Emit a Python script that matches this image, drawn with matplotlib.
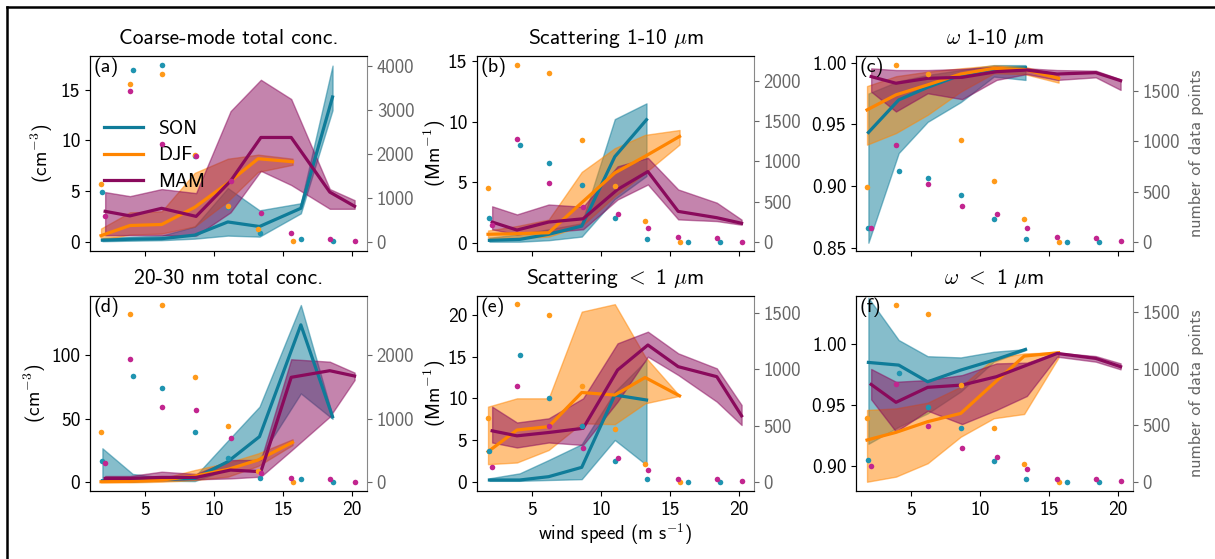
import numpy as np
import matplotlib
matplotlib.use("Agg")
import matplotlib.pyplot as plt
from matplotlib.lines import Line2D
from matplotlib.ticker import FormatStrFormatter

nan = np.nan

# mean wind speed of each bin, per season
son_x = [1.9, 4.1, 6.2, 8.6, 11.0, 13.3, 16.3, 18.6]
djf_x = [1.8, 3.9, 6.2, 8.6, 11.0, 13.2, 15.7]
mam_x = [2.1, 3.9, 6.2, 8.7, 11.2, 13.4, 15.6, 18.4, 20.2]

# (a) coarse-mode total conc.
a_son = [0.15, 0.25, 0.3, 0.65, 1.95, 1.5, 3.3, 14.3]
a_son_lo = [0.05, 0.1, 0.15, 0.3, 0.6, 0.5, 2.8, 13.0]
a_son_hi = [0.35, 0.5, 0.6, 1.5, 5.3, 3.1, 3.8, 17.4]
a_djf = [0.6, 1.6, 1.7, 3.4, 5.8, 8.2, 7.9]
a_djf_lo = [0.2, 0.7, 0.8, 1.5, 4.0, 6.9, 7.6]
a_djf_hi = [1.3, 2.9, 3.0, 6.8, 8.2, 8.6, 8.2]
a_mam = [3.0, 2.55, 3.3, 2.5, 6.0, 10.3, 10.3, 4.9, 3.5]
a_mam_lo = [0.65, 0.65, 0.65, 0.6, 2.9, 7.0, 5.6, 3.25, 3.25]
a_mam_hi = [4.9, 4.5, 5.2, 4.8, 12.9, 16.0, 14.1, 5.2, 4.1]
a_son_n = [1130, 3910, 4020, 1940, 800, 190, 55, 5]
a_djf_n = [1315, 3600, 3820, 1975, 810, 280, 10]
a_mam_n = [580, 3420, 2230, 1960, 1380, 660, 190, 55, 5]

# (b) scattering 1-10 um
b_son = [0.19, 0.27, 0.69, 1.37, 7.1, 10.15, nan, nan]
b_son_lo = [0.08, 0.08, 0.2, 0.5, 3.6, 5.5, nan, nan]
b_son_hi = [0.4, 0.7, 1.1, 1.6, 10.2, 11.5, nan, nan]
b_djf = [0.69, 0.74, 0.82, 3.3, 5.76, 7.13, 8.77]
b_djf_lo = [0.4, 0.38, 0.5, 1.37, 3.84, 5.76, 8.1]
b_djf_hi = [1.0, 1.37, 1.9, 5.84, 7.8, 8.9, 9.3]
b_mam = [1.7, 1.04, 1.7, 1.97, 4.39, 5.87, 2.58, 2.06, 1.6]
b_mam_lo = [1.1, 0.69, 0.88, 1.1, 3.56, 4.8, 1.92, 1.78, 1.48]
b_mam_hi = [3.0, 2.33, 3.15, 2.96, 6.3, 7.0, 4.39, 3.3, 1.9]
b_son_n = [293, 1200, 981, 709, 301, 37, 4, 4]
b_djf_n = [672, 2198, 2103, 1270, 693, 260, 4]
b_mam_n = [206, 1278, 730, 437, 342, 177, 62, 45, 4]

# (c) omega 1-10 um
c_son = [0.9434, 0.9698, 0.98, 0.990, 0.9949, 0.9959, nan, nan]
c_son_lo = [0.854, 0.9267, 0.952, 0.968, 0.9887, 0.986, nan, nan]
c_son_hi = [0.975, 0.985, 0.99, 0.994, 0.998, 0.998, nan, nan]
c_djf = [0.9617, 0.9739, 0.982, 0.9908, 0.9954, 0.9946, 0.9873]
c_djf_lo = [0.9335, 0.9429, 0.9577, 0.9765, 0.9914, 0.9908, 0.9838]
c_djf_hi = [0.981, 0.989, 0.9927, 0.9954, 0.9978, 0.9967, 0.990]
c_mam = [0.9887, 0.9833, 0.9873, 0.9881, 0.9927, 0.994, 0.9908, 0.9919, 0.9854]
c_mam_lo = [0.9765, 0.9604, 0.9752, 0.9704, 0.986, 0.9908, 0.986, 0.9881, 0.9779]
c_mam_hi = [0.9954, 0.994, 0.994, 0.9949, 0.9967, 0.9954, 0.994, 0.9935, 0.9865]
c_son_n = [135, 700, 635, 470, 224, 33, 3, 3]
c_djf_n = [543, 1753, 1664, 1006, 608, 224, 3]
c_mam_n = [141, 957, 579, 352, 273, 141, 49, 39, 10]

# (d) 20-30 nm total conc.
d_son = [1.3, 1.3, 2.4, 3.1, 16.3, 36.0, 124.0, 51.7]
d_son_lo = [0.5, 0.5, 1.3, 1.0, 10.2, 18.9, 70.0, 50.0]
d_son_hi = [26.8, 6.6, 3.9, 4.5, 32.8, 59.6, 139.6, 52.5]
d_djf = [0.5, 0.8, 1.8, 5.0, 10.2, 17.6, 31.5]
d_djf_lo = [0.0, 0.0, 0.5, 1.8, 4.5, 12.9, 29.4]
d_djf_hi = [1.3, 1.8, 3.1, 9.7, 15.5, 22.8, 33.9]
d_mam = [3.1, 3.1, 3.9, 3.9, 9.7, 8.4, 82.7, 87.9, 83.7]
d_mam_lo = [1.3, 1.3, 1.8, 2.4, 3.1, 4.5, 25.0, 51.7, 80.6]
d_mam_hi = [5.0, 5.0, 8.4, 6.6, 17.6, 17.6, 96.9, 95.0, 86.4]
d_son_n = [341, 1674, 1480, 798, 388, 63, 47, 0]
d_djf_n = [798, 2656, 2798, 1664, 887, 180, 0]
d_mam_n = [310, 1937, 1181, 1134, 693, 150, 63, 47, 5]

# (e) scattering < 1 um
e_son = [0.2, 0.2, 0.6, 1.72, 10.4, 9.8, nan, nan]
e_son_lo = [0.1, 0.1, 0.2, 0.3, 5.0, 2.0, nan, nan]
e_son_hi = [0.4, 1.0, 2.6, 4.5, 10.8, 14.6, nan, nan]
e_djf = [3.6, 6.2, 6.6, 10.7, 10.4, 12.5, 10.3]
e_djf_lo = [2.1, 2.3, 3.8, 7.0, 6.9, 9.4, 10.3]
e_djf_hi = [9.0, 10.0, 10.0, 20.4, 21.3, 15.0, 10.3]
e_mam = [6.1, 5.5, 5.9, 6.4, 13.4, 16.4, 13.8, 12.6, 7.9]
e_mam_lo = [4.7, 4.1, 4.7, 4.4, 9.6, 15.0, 12.8, 9.6, 6.8]
e_mam_hi = [9.0, 7.1, 7.6, 10.0, 16.6, 18.0, 15.4, 13.6, 9.2]
e_son_n = [273, 1129, 743, 496, 187, 24, 0, 0]
e_djf_n = [564, 1580, 1485, 852, 469, 154, 0]
e_mam_n = [134, 855, 496, 297, 208, 104, 24, 21, 3]

# (f) omega < 1 um
f_son = [0.9849, 0.9827, 0.969, 0.9786, 0.9868, 0.9956, nan, nan]
f_son_lo = [0.918, 0.932, 0.943, 0.961, 0.9855, 0.995, nan, nan]
f_son_hi = [1.038, 1.0033, 0.990, 0.989, 0.9937, 0.9958, nan, nan]
f_djf = [0.9211, 0.9274, 0.9362, 0.943, 0.9677, 0.9901, 0.9929]
f_djf_lo = [0.8868, 0.891, 0.902, 0.9238, 0.939, 0.9425, 0.989]
f_djf_hi = [0.9458, 0.9471, 0.9518, 0.9649, 0.9882, 0.9923, 0.9932]
f_mam = [0.9668, 0.9521, 0.9644, 0.9663, 0.9732, 0.9827, 0.9923, 0.9882, 0.9814]
f_mam_lo = [0.9545, 0.928, 0.9452, 0.9342, 0.9458, 0.9573, 0.9896, 0.9855, 0.9792]
f_mam_hi = [0.9795, 0.969, 0.9704, 0.9745, 0.9841, 0.9847, 0.9929, 0.9901, 0.9841]
f_son_n = [194, 966, 666, 474, 186, 29, 0, 0]
f_djf_n = [562, 1567, 1481, 854, 480, 159, 0]
f_mam_n = [141, 863, 498, 297, 218, 112, 29, 24, 6]

seasons = ["SON", "DJF", "MAM"]
line_col = {"SON": "#0f7c99", "DJF": "#ff8500", "MAM": "#8a0a5c"}
dot_col = {"SON": "#1f94b0", "DJF": "#ff9a1a", "MAM": "#c2258f"}
xs = {"SON": son_x, "DJF": djf_x, "MAM": mam_x}

plt.rcParams["font.family"] = "cmss10"
plt.rcParams["mathtext.fontset"] = "cm"
plt.rcParams["axes.unicode_minus"] = False
plt.rcParams["axes.formatter.use_mathtext"] = False

fig = plt.figure(figsize=(12.15, 5.59), dpi=100)

W, H = 1215.0, 559.0
lefts = [90, 477, 856]
tops = [56, 296]
aw, ah = 277, 195

panels = [
    dict(tag="(a)", title="Coarse-mode total conc.", ylabel="(cm$^{-3}$)", ylx=-0.125,
         d={"SON": (a_son, a_son_lo, a_son_hi, a_son_n),
            "DJF": (a_djf, a_djf_lo, a_djf_hi, a_djf_n),
            "MAM": (a_mam, a_mam_lo, a_mam_hi, a_mam_n)},
         ylim=(-0.92, 18.35), yt=[0, 5, 10, 15], rlim=(-212, 4226),
         rt=[0, 1000, 2000, 3000, 4000], fmt=None),
    dict(tag="(b)", title="Scattering 1-10 $\\mu$m", ylabel="(Mm$^{-1}$)", ylx=-0.106,
         d={"SON": (b_son, b_son_lo, b_son_hi, b_son_n),
            "DJF": (b_djf, b_djf_lo, b_djf_hi, b_djf_n),
            "MAM": (b_mam, b_mam_lo, b_mam_hi, b_mam_n)},
         ylim=(-0.69, 15.41), yt=[0, 5, 10, 15], rlim=(-111, 2309),
         rt=[0, 500, 1000, 1500, 2000], fmt=None),
    dict(tag="(c)", title="$\\omega$ 1-10 $\\mu$m", ylabel=None, ylx=None,
         d={"SON": (c_son, c_son_lo, c_son_hi, c_son_n),
            "DJF": (c_djf, c_djf_lo, c_djf_hi, c_djf_n),
            "MAM": (c_mam, c_mam_lo, c_mam_hi, c_mam_n)},
         ylim=(0.8473, 1.0054), yt=[0.85, 0.90, 0.95, 1.00], rlim=(-89, 1842),
         rt=[0, 500, 1000, 1500], fmt="%.2f"),
    dict(tag="(d)", title="20-30 nm total conc.", ylabel="(cm$^{-3}$)", ylx=-0.15,
         d={"SON": (d_son, d_son_lo, d_son_hi, d_son_n),
            "DJF": (d_djf, d_djf_lo, d_djf_hi, d_djf_n),
            "MAM": (d_mam, d_mam_lo, d_mam_hi, d_mam_n)},
         ylim=(-6.8, 146.7), yt=[0, 50, 100], rlim=(-136, 2934),
         rt=[0, 1000, 2000], fmt=None),
    dict(tag="(e)", title="Scattering $<$ 1 $\\mu$m", ylabel="(Mm$^{-1}$)", ylx=-0.106,
         d={"SON": (e_son, e_son_lo, e_son_hi, e_son_n),
            "DJF": (e_djf, e_djf_lo, e_djf_hi, e_djf_n),
            "MAM": (e_mam, e_mam_lo, e_mam_hi, e_mam_n)},
         ylim=(-1.12, 22.28), yt=[0, 5, 10, 15, 20], rlim=(-83, 1654),
         rt=[0, 500, 1000, 1500], fmt=None),
    dict(tag="(f)", title="$\\omega$ $<$ 1 $\\mu$m", ylabel=None, ylx=None,
         d={"SON": (f_son, f_son_lo, f_son_hi, f_son_n),
            "DJF": (f_djf, f_djf_lo, f_djf_hi, f_djf_n),
            "MAM": (f_mam, f_mam_lo, f_mam_hi, f_mam_n)},
         ylim=(0.8792, 1.0395), yt=[0.90, 0.95, 1.00], rlim=(-80, 1643),
         rt=[0, 500, 1000, 1500], fmt="%.2f"),
]

gray = "#666666"
for i, p in enumerate(panels):
    row, col = divmod(i, 3)
    ax = fig.add_axes([lefts[col] / W, 1 - (tops[row] + ah) / H, aw / W, ah / H])
    for s in seasons:
        m, lo, hi, n = p["d"][s]
        ax.fill_between(xs[s], lo, hi, color=line_col[s], alpha=0.5, lw=1)
    for s in seasons:
        m, lo, hi, n = p["d"][s]
        ax.plot(xs[s], m, color=line_col[s], lw=2.3, label=s)
    ax.set_xlim(1.0, 21.1)
    ax.set_xticks([5, 10, 15, 20])
    ax.set_ylim(*p["ylim"])
    ax.set_yticks(p["yt"])
    if p["fmt"]:
        ax.yaxis.set_major_formatter(FormatStrFormatter(p["fmt"]))
    ax.tick_params(labelsize=14)
    if row == 0:
        ax.tick_params(labelbottom=False)
    ax.set_title(p["title"], fontsize=15.5, pad=9)
    if p["ylabel"]:
        ax.set_ylabel(p["ylabel"], fontsize=14)
        ax.yaxis.set_label_coords(p["ylx"], 0.5)
    ax.text(0.012, 0.99, p["tag"], transform=ax.transAxes, fontsize=14.5,
            va="top", ha="left")
    ax.spines["right"].set_visible(False)
    if i == 0:
        ax.legend(loc="center left", bbox_to_anchor=(0.0, 0.49), frameon=False,
                  fontsize=14, handlelength=2.0, borderaxespad=0.3,
                  labelspacing=0.45)

    ax2 = ax.twinx()
    for s in seasons:
        m, lo, hi, n = p["d"][s]
        ax2.scatter(xs[s], n, s=16, color=dot_col[s], lw=0, zorder=3)
    ax2.set_ylim(*p["rlim"])
    ax2.set_yticks(p["rt"])
    ax2.tick_params(labelsize=13.5, colors=gray)
    ax2.spines["right"].set_color("#888888")
    if col == 2:
        ax2.set_ylabel("number of data points", fontsize=13, color=gray, labelpad=6)
    if i == 4:
        ax.set_xlabel("wind speed (m s$^{-1}$)", fontsize=13.5, labelpad=2)

# outer frame (only top and left edges fall inside the picture)
fig.add_artist(Line2D([6.5 / W, 1.0], [1 - 6.5 / H, 1 - 6.5 / H], color="black", lw=1.8,
                      transform=fig.transFigure))
fig.add_artist(Line2D([6.5 / W, 6.5 / W], [0.0, 1 - 6.5 / H], color="black", lw=1.8,
                      transform=fig.transFigure))

fig.savefig("out.png", dpi=100)
